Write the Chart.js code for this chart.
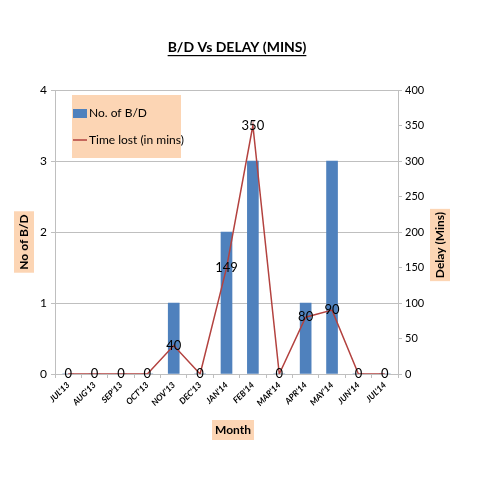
<!DOCTYPE html>
<html>
<head>
<meta charset="utf-8">
<script src="https://cdn.jsdelivr.net/npm/chart.js@4.4.1/dist/chart.umd.min.js"></script>
<style>
  html, body { margin: 0; padding: 0; background: #fff; }
  #wrap { width: 480px; height: 480px; position: relative; }
</style>
</head>
<body>
<div id="wrap"><canvas id="bdChart" width="480" height="480"></canvas></div>
<script>
// ---- data ----
const months = ["JUL'13", "AUG'13", "SEP'13", "OCT'13", "NOV'13", "DEC'13", "JAN'14", "FEB'14", "MAR'14", "APR'14", "MAY'14", "JUN'14", "JUL'14"];
const breakdowns = [0, 0, 0, 0, 1, 0, 2, 3, 0, 1, 3, 0, 0];
const timeLost = [0, 0, 0, 0, 40, 0, 149, 350, 0, 80, 90, 0, 0];
const leftTicks = [0, 1, 2, 3, 4];
const rightTicks = [0, 50, 100, 150, 200, 250, 300, 350, 400];

const FONT = 'Lato, "Open Sans", sans-serif';
const PEACH = '#fcd5b4';
const BAR_BLUE = '#4f81bd';
const LINE_RED = '#b3423f';

// titles, axis titles, legend and line value labels
const decorPlugin = {
    id: 'decor',
    afterDraw(chart) {
        const ctx = chart.ctx;
        ctx.save();

        // chart title (underlined)
        ctx.font = 'bold 14px ' + FONT;
        ctx.fillStyle = '#000';
        ctx.textAlign = 'center';
        ctx.textBaseline = 'middle';
        const title = 'B/D Vs DELAY (MINS)';
        ctx.fillText(title, 237, 47);
        const tw = ctx.measureText(title).width;
        ctx.fillRect(237 - tw / 2, 55, tw, 1.2);

        // axis titles with peach boxes
        function boxedText(text, x, y, rot) {
            ctx.save();
            ctx.translate(x, y);
            ctx.rotate(rot);
            ctx.font = 'bold 12px ' + FONT;
            const w = ctx.measureText(text).width + 6;
            ctx.fillStyle = PEACH;
            ctx.fillRect(-w / 2, -10, w, 20);
            ctx.fillStyle = '#000';
            ctx.textAlign = 'center';
            ctx.textBaseline = 'middle';
            ctx.fillText(text, 0, 0);
            ctx.restore();
        }
        boxedText('No of B/D', 24, 242, -Math.PI / 2);
        boxedText('Delay (Mins)', 440, 245, -Math.PI / 2);
        boxedText('Month', 233, 430, 0);

        // legend
        ctx.fillStyle = PEACH;
        ctx.fillRect(72, 95, 109, 63);
        ctx.fillStyle = BAR_BLUE;
        ctx.fillRect(73, 109, 14, 9);
        ctx.strokeStyle = LINE_RED;
        ctx.lineWidth = 1.5;
        ctx.beginPath();
        ctx.moveTo(73, 140);
        ctx.lineTo(87, 140);
        ctx.stroke();
        ctx.font = '12px ' + FONT;
        ctx.fillStyle = '#000';
        ctx.textAlign = 'left';
        ctx.textBaseline = 'middle';
        ctx.fillText('No. of B/D', 89, 113);
        ctx.fillText('Time lost (in mins)', 89, 140);

        // value labels on the line (dataset 0 is the line)
        const meta = chart.getDatasetMeta(0);
        ctx.font = '13px ' + FONT;
        ctx.textAlign = 'center';
        meta.data.forEach((pt, i) => {
            ctx.fillText(String(timeLost[i]), pt.x, pt.y);
        });
        ctx.restore();
    }
};

const ctx = document.getElementById('bdChart');
const bdChart = new Chart(ctx, {
    data: {
        labels: months,
        datasets: [{
            type: 'line',
            label: 'Time lost (in mins)',
            data: timeLost,
            yAxisID: 'y1',
            borderColor: LINE_RED,
            borderWidth: 1.5,
            pointRadius: 0,
            tension: 0,
            order: 0
        }, {
            type: 'bar',
            label: 'No. of B/D',
            data: breakdowns,
            yAxisID: 'y',
            backgroundColor: BAR_BLUE,
            barThickness: 11,
            order: 1
        }]
    },
    options: {
        responsive: false,
        animation: false,
        layout: { padding: { top: 90, left: 0, right: 0, bottom: 0 } },
        plugins: {
            legend: { display: false },
            title: { display: false },
            tooltip: { enabled: false }
        },
        scales: {
            x: {
                offset: true,
                grid: { drawOnChartArea: false, color: '#bfbfbf', tickLength: 4, offset: true },
                border: { color: '#bfbfbf' },
                ticks: {
                    maxRotation: 45, minRotation: 45,
                    padding: 2,
                    color: '#000',
                    font: { family: FONT, size: 8.5, weight: 'bold', style: 'italic' }
                },
                afterFit: s => { s.height = 106; }
            },
            y: {
                position: 'left',
                min: 0, max: 4,
                afterBuildTicks: s => { s.ticks = leftTicks.map(v => ({ value: v })); },
                grid: { color: '#bfbfbf', tickLength: 4 },
                border: { color: '#bfbfbf' },
                ticks: { color: '#000', padding: 4, font: { family: FONT, size: 12 } },
                afterFit: s => { s.width = 55; }
            },
            y1: {
                position: 'right',
                min: 0, max: 400,
                afterBuildTicks: s => { s.ticks = rightTicks.map(v => ({ value: v })); },
                grid: { drawOnChartArea: false, color: '#bfbfbf', tickLength: 4 },
                border: { color: '#bfbfbf' },
                ticks: { color: '#000', padding: 3, font: { family: FONT, size: 11 } },
                afterFit: s => { s.width = 82; }
            }
        }
    },
    plugins: [decorPlugin]
});
</script>
</body>
</html>
